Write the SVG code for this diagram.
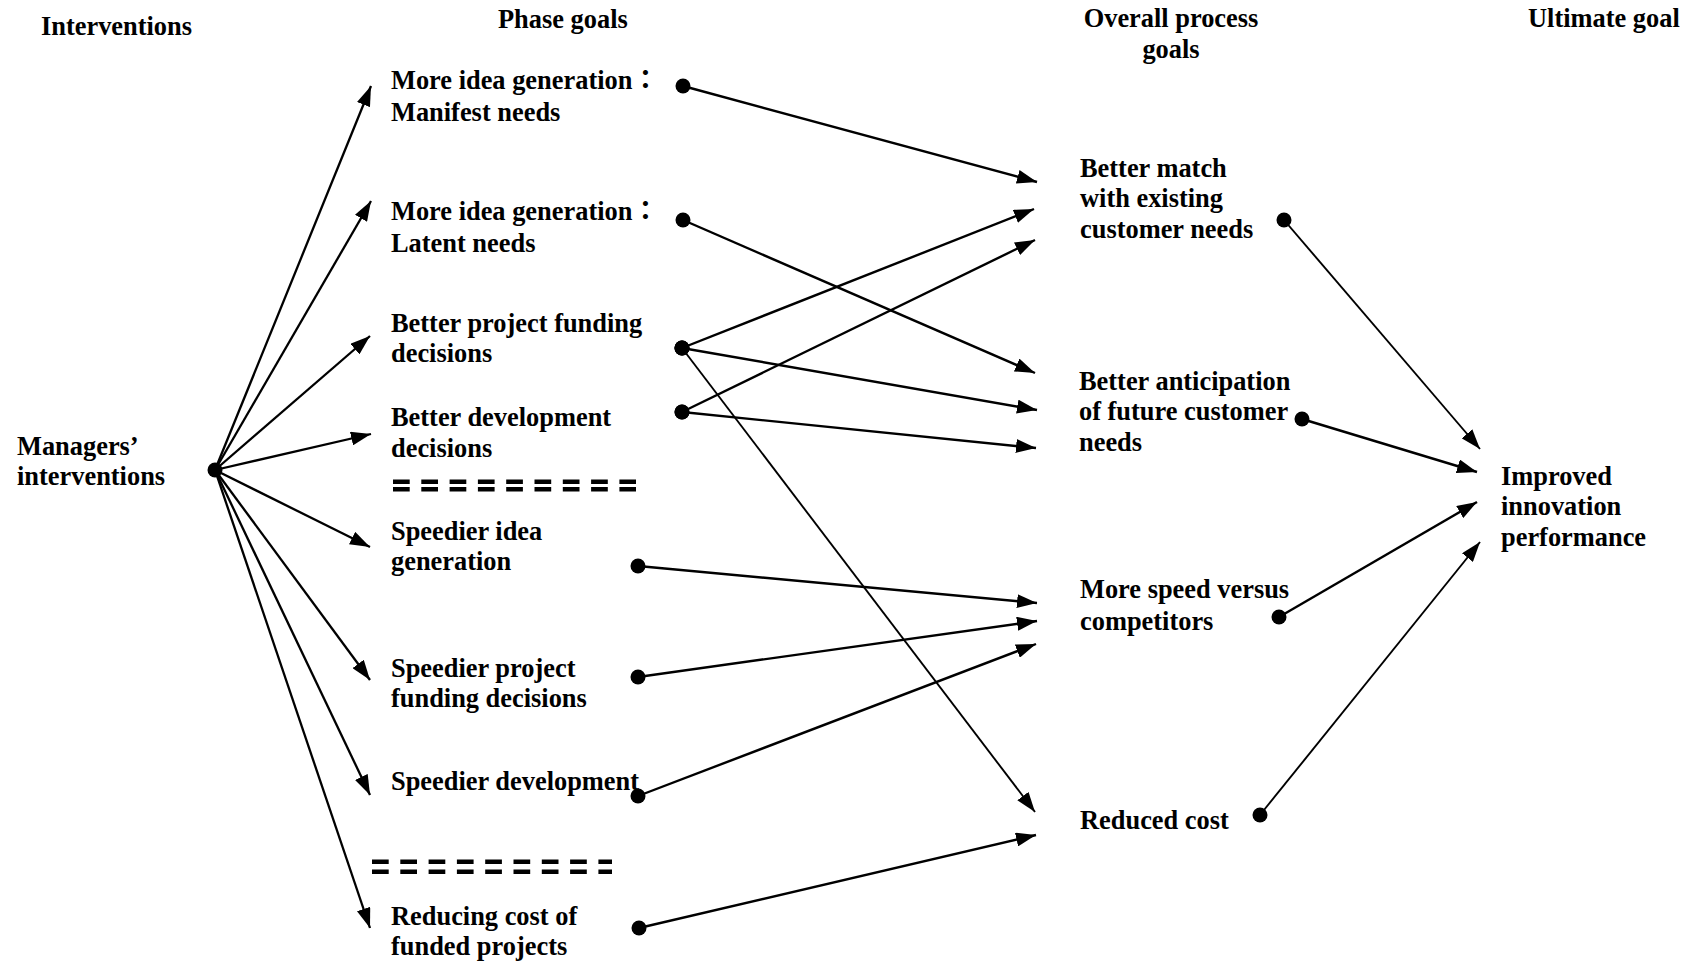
<svg xmlns="http://www.w3.org/2000/svg" width="1691" height="963" viewBox="0 0 1691 963">
  <style>
    text { font-family: "Liberation Serif", "Times New Roman", "Noto Sans CJK JP", serif; font-weight: bold; font-size: 26.4px; fill: #000; }
    .mid { text-anchor: middle; }
    .link { fill: none; stroke: #000; stroke-width: 2.4; marker-start: url(#dot); marker-end: url(#arrow); }
    .hub { fill: none; stroke: #000; stroke-width: 2.3; marker-end: url(#arrow); }
    .thin { stroke-width: 1.9; }
    .sep { fill: none; stroke: #000; stroke-width: 4.6; stroke-dasharray: 16.7 11.6; }
  </style>
  <defs>
    <marker id="arrow" viewBox="0 0 20 14" refX="20" refY="7" markerWidth="20" markerHeight="14" orient="auto" markerUnits="userSpaceOnUse">
      <path d="M0,0 L20,7 L0,14 z" fill="#000"/>
    </marker>
    <marker id="dot" viewBox="0 0 16 16" refX="8" refY="8" markerWidth="16" markerHeight="16" markerUnits="userSpaceOnUse">
      <circle cx="8" cy="8" r="7.5" fill="#000"/>
    </marker>
  </defs>
  <rect width="1691" height="963" fill="#fff"/>

  <!-- column headings -->
  <g id="headings">
    <text x="41" y="35">Interventions</text>
    <text x="498" y="28">Phase goals</text>
    <text class="mid" x="1171" y="27">Overall process<tspan x="1171" y="58">goals</tspan></text>
    <text x="1528" y="27">Ultimate goal</text>
  </g>

  <!-- source node -->
  <g id="managers">
    <text x="17" y="455">Managers’<tspan x="17" y="485">interventions</tspan></text>
    <circle cx="215" cy="470" r="7.5" fill="#000"/>
  </g>

  <!-- phase goals -->
  <g id="idea-manifest">
    <text x="391" y="89">More idea generation：<tspan x="391" y="121">Manifest needs</tspan></text>
  </g>
  <g id="idea-latent">
    <text x="391" y="220">More idea generation：<tspan x="391" y="252">Latent needs</tspan></text>
  </g>
  <g id="funding-decisions">
    <text x="391" y="332">Better project funding<tspan x="391" y="362">decisions</tspan></text>
  </g>
  <g id="development-decisions">
    <text x="391" y="426">Better development<tspan x="391" y="457">decisions</tspan></text>
  </g>
  <g id="separator-1">
    <line class="sep" x1="393" y1="481.7" x2="636" y2="481.7"/>
    <line class="sep" x1="393" y1="489.2" x2="636" y2="489.2"/>
  </g>
  <g id="speedier-idea">
    <text x="391" y="540">Speedier idea<tspan x="391" y="570">generation</tspan></text>
  </g>
  <g id="speedier-funding">
    <text x="391" y="677">Speedier project<tspan x="391" y="707">funding decisions</tspan></text>
  </g>
  <g id="speedier-development">
    <text x="391" y="790">Speedier development</text>
  </g>
  <g id="separator-2">
    <line class="sep" x1="372" y1="861.7" x2="612" y2="861.7"/>
    <line class="sep" x1="372" y1="871.7" x2="612" y2="871.7"/>
  </g>
  <g id="reducing-cost">
    <text x="391" y="925">Reducing cost of<tspan x="391" y="955">funded projects</tspan></text>
  </g>

  <!-- overall process goals -->
  <g id="better-match">
    <text x="1080" y="177">Better match<tspan x="1080" y="207">with existing</tspan><tspan x="1080" y="238">customer needs</tspan></text>
  </g>
  <g id="better-anticipation">
    <text x="1079" y="390">Better anticipation<tspan x="1079" y="420">of future customer</tspan><tspan x="1079" y="451">needs</tspan></text>
  </g>
  <g id="more-speed">
    <text x="1080" y="598">More speed versus<tspan x="1080" y="630">competitors</tspan></text>
  </g>
  <g id="reduced-cost">
    <text x="1080" y="829">Reduced cost</text>
  </g>

  <!-- ultimate goal -->
  <g id="improved-performance">
    <text x="1501" y="485">Improved<tspan x="1501" y="515">innovation</tspan><tspan x="1501" y="546">performance</tspan></text>
  </g>

  <g id="connectors">
    <!-- interventions to phase goals -->
    <line class="hub" x1="215" y1="470" x2="371" y2="86"/>
    <line class="hub" x1="215" y1="470" x2="371" y2="201"/>
    <line class="hub" x1="215" y1="470" x2="370" y2="336"/>
    <line class="hub" x1="215" y1="470" x2="371" y2="434"/>
    <line class="hub" x1="215" y1="470" x2="370" y2="547"/>
    <line class="hub" x1="215" y1="470" x2="370" y2="680"/>
    <line class="hub" x1="215" y1="470" x2="370" y2="795"/>
    <line class="hub" x1="215" y1="470" x2="370" y2="928"/>

    <!-- phase goals to overall process goals -->
    <line class="link" x1="683" y1="86" x2="1037" y2="182"/>
    <line class="link" x1="683" y1="220" x2="1035" y2="373"/>
    <line class="link" x1="682" y1="348" x2="1034" y2="209"/>
    <line class="link" x1="682" y1="348" x2="1037" y2="410"/>
    <line class="link thin" x1="682" y1="348" x2="1035" y2="812"/>
    <line class="link" x1="682" y1="412" x2="1035" y2="240"/>
    <line class="link" x1="682" y1="412" x2="1036" y2="448"/>
    <line class="link" x1="638" y1="566" x2="1037" y2="603"/>
    <line class="link" x1="638" y1="677" x2="1037" y2="621"/>
    <line class="link" x1="638" y1="796" x2="1036" y2="644"/>
    <line class="link" x1="639" y1="928" x2="1036" y2="835"/>

    <!-- overall process goals to ultimate goal -->
    <line class="link thin" x1="1284" y1="220" x2="1480" y2="449"/>
    <line class="link" x1="1302" y1="419" x2="1477" y2="472"/>
    <line class="link" x1="1279" y1="617" x2="1477" y2="502"/>
    <line class="link thin" x1="1260" y1="815" x2="1480" y2="542"/>
  </g>
</svg>
